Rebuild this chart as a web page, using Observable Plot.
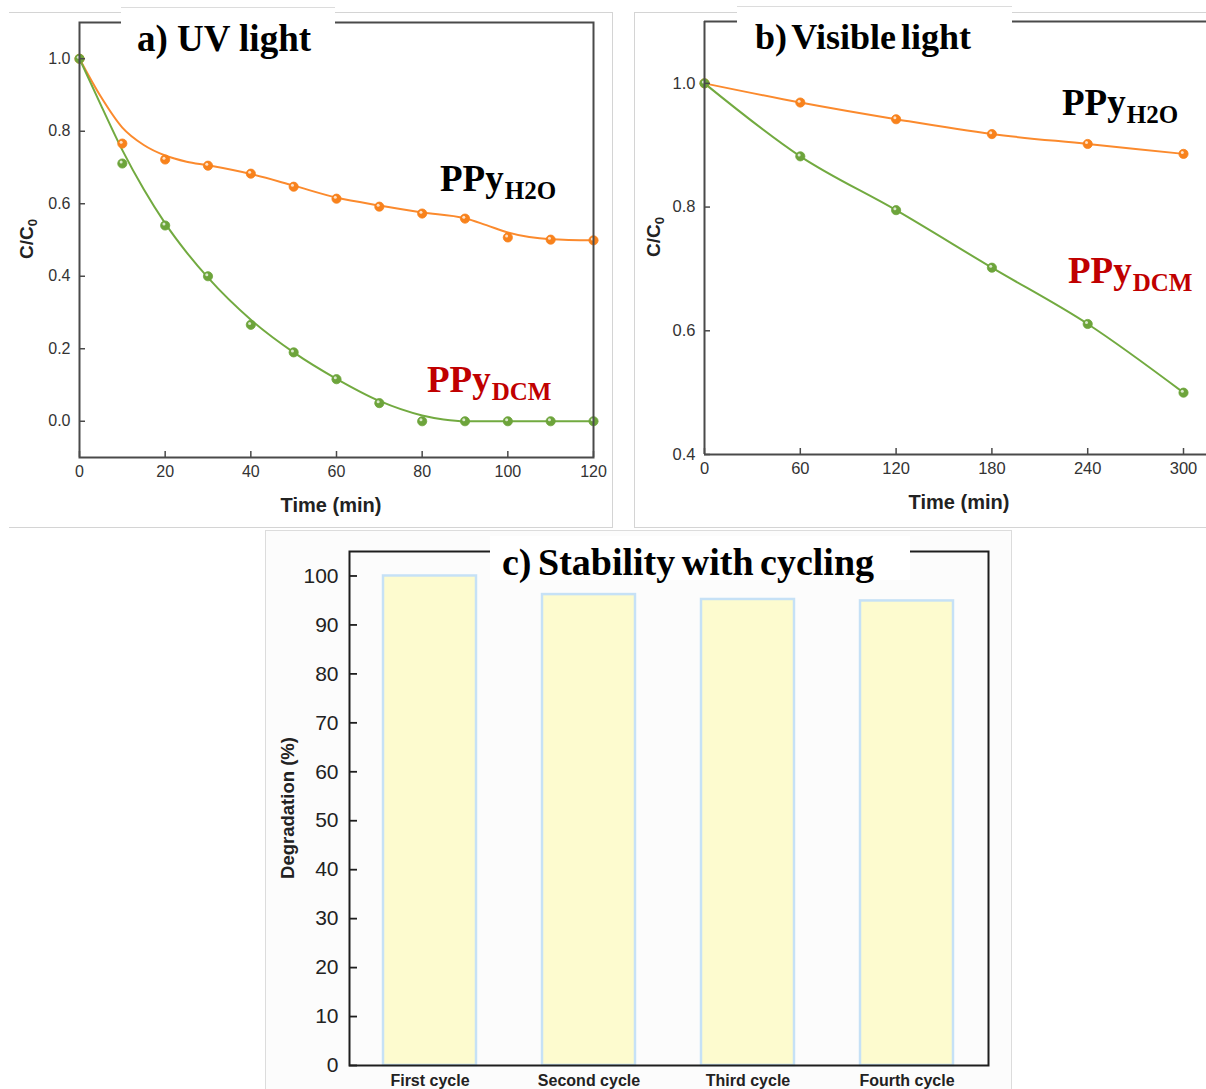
<!DOCTYPE html>
<html>
<head>
<meta charset="utf-8">
<script src="https://cdn.jsdelivr.net/npm/d3@7"></script>
<script src="https://cdn.jsdelivr.net/npm/@observablehq/plot@0.6"></script>
<style>
  html, body { margin: 0; padding: 0; background: #fff; }
  body { width: 1206px; height: 1089px; position: relative; overflow: hidden; font-family: "Liberation Sans", Arial, sans-serif; }
  .abs { position: absolute; }
  .title { position: absolute; font-family: "Liberation Serif", "Times New Roman", serif; font-weight: bold; line-height: 1; white-space: nowrap; color: #000; }
  .lab { position: absolute; font-family: "Liberation Serif", "Times New Roman", serif; font-weight: bold; line-height: 1; white-space: nowrap; font-size: 37px; }
  .lab .s { font-size: 25px; vertical-align: -8px; margin-left: 1px; }
  .axl { position: absolute; font-family: "Liberation Sans", Arial, sans-serif; font-weight: bold; line-height: 1; white-space: nowrap; color: #222; }
  .rot { position: absolute; font-family: "Liberation Sans", Arial, sans-serif; font-weight: bold; line-height: 1; white-space: nowrap; color: #222; transform: translate(-50%, -50%) rotate(-90deg); }
  .rot sub { font-size: 0.7em; vertical-align: -0.25em; }
  .box { position: absolute; background: #fff; border-top: 1px solid #dcdcdc; }
  svg { background: transparent !important; overflow: visible; }
</style>
</head>
<body>
<!-- panel borders -->
<div class="abs" style="left:9px;top:12px;width:603px;height:514px;border-top:1px solid #d4d4d4;border-right:1px solid #d4d4d4;border-bottom:1px solid #d4d4d4;"></div>
<div class="abs" style="left:634px;top:12px;width:600px;height:514px;border-top:1px solid #d4d4d4;border-left:1px solid #d4d4d4;border-bottom:1px solid #d4d4d4;"></div>
<div class="abs" style="left:265px;top:530px;width:745px;height:580px;border:1px solid #dcdcdc;background:#fcfcfc;"></div>

<div id="pa" class="abs" style="left:0;top:0;"></div>
<div id="pb" class="abs" style="left:634px;top:0;"></div>
<div id="pc" class="abs" style="left:265px;top:530px;"></div>

<!-- title boxes -->
<div class="box" style="left:121px;top:7px;width:214px;height:50px;"></div>
<div class="box" style="left:737px;top:6px;width:275px;height:50px;"></div>
<div class="box" style="left:490px;top:536px;width:420px;height:44px;border-top:none;"></div>

<div class="title" style="left:137px;top:20px;font-size:37px;">a) UV light</div>
<div class="title" style="left:755px;top:19px;font-size:36px;word-spacing:-4px;">b) Visible light</div>
<div class="title" style="left:502px;top:543px;font-size:38px;word-spacing:-3px;">c) Stability with cycling</div>

<!-- series labels -->
<div class="lab" style="left:440px;top:160px;color:#000;">PPy<span class="s">H2O</span></div>
<div class="lab" style="left:427px;top:361px;color:#c00000;">PPy<span class="s">DCM</span></div>
<div class="lab" style="left:1062px;top:84px;color:#000;">PPy<span class="s">H2O</span></div>
<div class="lab" style="left:1068px;top:252px;color:#c00000;">PPy<span class="s">DCM</span></div>

<!-- axis titles -->
<div class="axl" style="left:231px;top:495px;width:200px;text-align:center;font-size:20px;">Time (min)</div>
<div class="axl" style="left:859px;top:492px;width:200px;text-align:center;font-size:20px;">Time (min)</div>
<div class="rot" style="left:28px;top:239px;font-size:19px;">C/C<sub>0</sub></div>
<div class="rot" style="left:655px;top:237px;font-size:19px;">C/C<sub>0</sub></div>
<div class="rot" style="left:288px;top:808px;font-size:18.5px;">Degradation (%)</div>

<script>
// ---------- Data ----------
// Panel a) UV light: measured points
const timeA = [0, 10, 20, 30, 40, 50, 60, 70, 80, 90, 100, 110, 120];
const h2oA  = [1.0, 0.766, 0.722, 0.705, 0.683, 0.647, 0.614, 0.592, 0.573, 0.559, 0.507, 0.501, 0.499];
const dcmA  = [1.0, 0.711, 0.540, 0.400, 0.266, 0.190, 0.116, 0.050, 0.0, 0.0, 0.0, 0.0, 0.0];
// Panel a) fitted curves (read off the picture)
const h2oFitTimeA = [0, 5, 10, 15, 20, 25, 30, 40, 50, 60, 70, 80, 90, 95, 100, 105, 110, 120];
const h2oFitA     = [1.0, 0.895, 0.810, 0.762, 0.733, 0.716, 0.706, 0.682, 0.650, 0.617, 0.595, 0.576, 0.560, 0.541, 0.521, 0.508, 0.502, 0.499];
const dcmFitTimeA = [0, 5, 10, 15, 20, 25, 30, 40, 50, 60, 70, 80, 85, 90, 100, 110, 120];
const dcmFitA     = [1.0, 0.872, 0.748, 0.640, 0.546, 0.466, 0.396, 0.280, 0.190, 0.117, 0.056, 0.016, 0.005, 0.0, 0.0, 0.0, 0.0];

// Panel b) Visible light
const timeB = [0, 60, 120, 180, 240, 300];
const h2oB  = [1.0, 0.969, 0.942, 0.918, 0.902, 0.886];
const dcmB  = [1.0, 0.882, 0.795, 0.702, 0.611, 0.500];

// Panel c) Stability with cycling
const cycles = ["First cycle", "Second cycle", "Third cycle", "Fourth cycle"];
const degradation = [100, 96.2, 95.2, 94.9];

// Tick values
const xTicksA = [0, 20, 40, 60, 80, 100, 120];
const yTicksA = [0.0, 0.2, 0.4, 0.6, 0.8, 1.0];
const xTicksB = [0, 60, 120, 180, 240, 300];
const yTicksB = [0.4, 0.6, 0.8, 1.0];
const yTicksC = [0, 10, 20, 30, 40, 50, 60, 70, 80, 90, 100];

// ---------- Styles ----------
const ORANGE = "#fb8a2d";
const ORANGE_DOT = "#f8821c";
const GREEN = "#72aa40";
const GREEN_DOT = "#6da43b";
const AXIS = "#4a4a4a";
const fmt1 = d3.format(".1f");

const zip = (xs, ys) => xs.map((x, i) => ({x, y: ys[i]}));

function dotMarks(data, color) {
  return [
    Plot.dot(data, {x: "x", y: "y", r: 4.6, fill: color, stroke: color, strokeWidth: 0.8}),
    Plot.dot(data, {x: "x", y: "y", r: 1.5, fill: "#fff", fillOpacity: 0.75, dx: -1.2, dy: -1.4})
  ];
}

function axes(xTicks, yTicks, fontSize) {
  const txt = {fontSize, fontFamily: "Liberation Sans, Arial, sans-serif", fill: "#333", label: null};
  return [
    Plot.axisX(xTicks, {...txt, tickSize: 0, tickPadding: 8}),
    Plot.axisX(xTicks, {tickSize: 6, dy: -6, fill: "none", stroke: AXIS, strokeWidth: 1.5, label: null}),
    Plot.axisY(yTicks, {...txt, tickSize: 0, tickPadding: 9, tickFormat: fmt1}),
    Plot.axisY(yTicks, {tickSize: 6, dx: 6, fill: "none", stroke: AXIS, strokeWidth: 1.5, label: null})
  ];
}

// ---------- Panel a ----------
const chartA = Plot.plot({
  width: 612, height: 526,
  marginLeft: 79, marginRight: 19, marginTop: 22, marginBottom: 69,
  x: {domain: [0, 120], axis: null},
  y: {domain: [-0.1, 1.1], axis: null},
  style: {background: "transparent", overflow: "visible"},
  marks: [
    Plot.line(zip(h2oFitTimeA, h2oFitA), {x: "x", y: "y", stroke: ORANGE, strokeWidth: 2, curve: "monotone-x"}),
    Plot.line(zip(dcmFitTimeA, dcmFitA), {x: "x", y: "y", stroke: GREEN, strokeWidth: 2, curve: "monotone-x"}),
    ...dotMarks(zip(timeA, h2oA), ORANGE_DOT),
    ...dotMarks(zip(timeA, dcmA), GREEN_DOT),
    Plot.frame({stroke: AXIS, strokeWidth: 2}),
    ...axes(xTicksA, yTicksA, 16)
  ]
});
document.getElementById("pa").appendChild(chartA);

// ---------- Panel b ----------
const chartB = Plot.plot({
  width: 572, height: 526,
  marginLeft: 70, marginRight: 0, marginTop: 21, marginBottom: 72,
  x: {domain: [0, 314.4], axis: null},
  y: {domain: [0.4, 1.1], axis: null},
  style: {background: "transparent", overflow: "visible"},
  marks: [
    Plot.line(zip(timeB, h2oB), {x: "x", y: "y", stroke: ORANGE, strokeWidth: 2, curve: "monotone-x"}),
    Plot.line(zip(timeB, dcmB), {x: "x", y: "y", stroke: GREEN, strokeWidth: 2, curve: "monotone-x"}),
    ...dotMarks(zip(timeB, h2oB), ORANGE_DOT),
    ...dotMarks(zip(timeB, dcmB), GREEN_DOT),
    Plot.ruleX([0], {stroke: AXIS, strokeWidth: 2}),
    Plot.ruleY([0.4, 1.1], {stroke: AXIS, strokeWidth: 2}),
    ...axes(xTicksB, yTicksB, 16.5)
  ]
});
document.getElementById("pb").appendChild(chartB);

// ---------- Panel c ----------
const barData = cycles.map((c, i) => ({cycle: c, value: degradation[i]}));
const chartC = Plot.plot({
  width: 745, height: 559,
  marginLeft: 84, marginRight: 22, marginTop: 21, marginBottom: 24,
  x: {domain: cycles, paddingInner: 0.4, paddingOuter: 0.2, axis: null},
  y: {domain: [0, 105], axis: null},
  style: {background: "transparent", overflow: "visible"},
  marks: [
    Plot.barY(barData, {x: "cycle", y: "value", fill: "#fdfbcf", stroke: "#c6e1f6", strokeWidth: 2.5, insetLeft: 1, insetRight: 1}),
    Plot.frame({stroke: "#1e1e1e", strokeWidth: 2}),
    Plot.axisX({tickSize: 0, tickPadding: 9, fontSize: 16, fontWeight: "bold", fontFamily: "Liberation Sans, Arial, sans-serif", fill: "#222", label: null}),
    Plot.axisY(yTicksC, {tickSize: 0, tickPadding: 11, fontSize: 21, fontFamily: "Liberation Sans, Arial, sans-serif", fill: "#222", label: null}),
    Plot.axisY(yTicksC, {tickSize: 8, dx: 8, fill: "none", stroke: "#1e1e1e", strokeWidth: 1.8, label: null})
  ]
});
document.getElementById("pc").appendChild(chartC);
</script>
</body>
</html>
